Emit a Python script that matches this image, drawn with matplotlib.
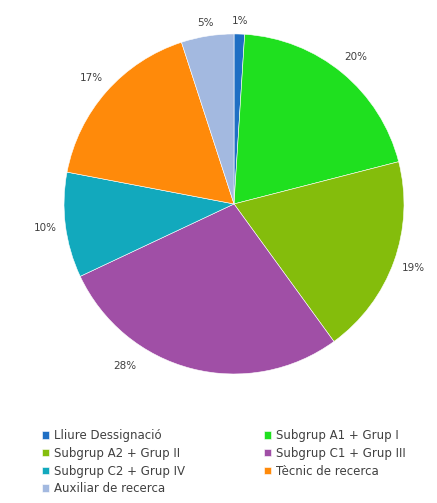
import numpy as np
import matplotlib.pyplot as plt

categories = ["Lliure Dessignació", "Subgrup A1 + Grup I", "Subgrup A2 + Grup II",
              "Subgrup C1 + Grup III", "Subgrup C2 + Grup IV", "Tècnic de recerca",
              "Auxiliar de recerca"]
values = [1, 20, 19, 28, 10, 17, 5]
colors = ["#1f6fc4", "#1fe01f", "#84bd0c", "#a04fa6", "#12a9bd", "#ff8a0a", "#a3b9e0"]

plt.rcParams['font.family'] = ['DejaVu Sans']

fig = plt.figure(figsize=(4.37, 5.03), dpi=100)
ax = fig.add_axes([0.1465, 0.2565, 0.778, 0.676])

wedges, texts, autotexts = ax.pie(
    values, colors=colors, startangle=90, counterclock=False,
    autopct='%d%%', pctdistance=1.12, radius=1,
    wedgeprops=dict(edgecolor='white', linewidth=0.4),
    textprops=dict(fontsize=7.5, color='#404040'))
ax.set_xlim(-1, 1)
ax.set_ylim(-1, 1)
ax.set_aspect('auto')

# small top labels sit a bit closer to the pie, 28% further round to the left
for i in (0, 6):
    x, y = autotexts[i].get_position()
    autotexts[i].set_position((x * 0.96, y * 0.96))
ang = np.deg2rad(-124)
autotexts[3].set_position((1.15 * np.cos(ang), 1.15 * np.sin(ang)))

# legend fills row by row in the original
order = [0, 2, 4, 6, 1, 3, 5]
leg = fig.legend([wedges[i] for i in order], [categories[i] for i in order],
                 ncol=2, loc='upper left', bbox_to_anchor=(0.096, 0.147),
                 frameon=False, fontsize=8.5, handlelength=0.6, handleheight=0.6,
                 handletextpad=0.4, columnspacing=6.7, labelspacing=0.4,
                 borderpad=0, borderaxespad=0)
for t in leg.get_texts():
    t.set_color('#404040')

fig.savefig('out.png', dpi=100)
